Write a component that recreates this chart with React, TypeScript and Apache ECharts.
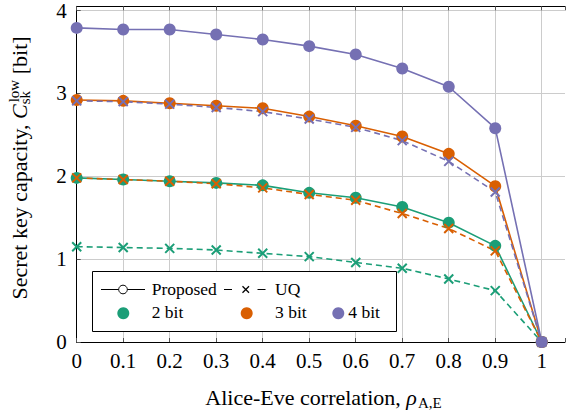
import React, { useEffect, useRef } from 'react';
import * as echarts from 'echarts';

// ---- data ----
const rho = [0, 0.1, 0.2, 0.3, 0.4, 0.5, 0.6, 0.7, 0.8, 0.9, 1.0];
const proposed2 = [1.98, 1.96, 1.94, 1.92, 1.89, 1.80, 1.74, 1.63, 1.44, 1.16, 0];
const proposed3 = [2.92, 2.91, 2.88, 2.85, 2.82, 2.72, 2.61, 2.48, 2.27, 1.88, 0];
const proposed4 = [3.79, 3.77, 3.77, 3.71, 3.65, 3.57, 3.47, 3.30, 3.08, 2.58, 0];
const uq2 = [1.15, 1.14, 1.13, 1.11, 1.07, 1.03, 0.96, 0.89, 0.76, 0.62, 0];
const uq3 = [1.98, 1.96, 1.94, 1.91, 1.86, 1.78, 1.71, 1.55, 1.37, 1.10, 0];
const uq4 = [2.91, 2.90, 2.87, 2.83, 2.78, 2.69, 2.59, 2.43, 2.18, 1.81, 0];

const bitLabels = ['2 bit', '3 bit', '4 bit'];
const methodLabels = ['Proposed', 'UQ'];
const colors = ['#1b9e77', '#d95f02', '#7570b3'];

const FONT = 'Liberation Serif';
const CROSS = 'path://M0,0L10,10M10,0L0,10';

function measure(text: string, size: number, style = 'normal') {
  const ctx = document.createElement('canvas').getContext('2d')!;
  ctx.font = `${style} ${size}px Liberation Serif`;
  return ctx.measureText(text).width;
}

function pairs(ys: number[]) {
  return rho.map((x, i) => [x, ys[i]]);
}

function lineSeries(name: string, ys: number[], color: string, dashed: boolean) {
  return {
    name,
    type: 'line',
    data: pairs(ys),
    symbol: dashed ? CROSS : 'circle',
    symbolSize: dashed ? 9 : 12,
    lineStyle: { color, width: 1.6, type: dashed ? [6, 4] : 'solid' },
    itemStyle: dashed
      ? { color, borderColor: color, borderWidth: 2 }
      : { color },
    emphasis: { disabled: true },
  };
}

function buildGraphic() {
  const g: any[] = [];
  const txt = (text: string, x: number, y: number, size: number, style = 'normal', z = 50) => ({
    type: 'text',
    x,
    y,
    z,
    style: {
      text,
      font: `${style} normal ${size}px ${FONT}`,
      fontSize: size,
      fontFamily: FONT,
      fontStyle: style,
      fill: '#000',
      align: 'left',
      verticalAlign: 'middle',
    },
  });
  // ---- y axis title (rotated) ----
  const big = 22;
  const small = 15;
  const yMain = 'Secret key capacity, ';
  const wMain = measure(yMain, big);
  const wC = measure('C', big, 'italic');
  const wSup = measure('low', small);
  const wSub = measure('sk', small);
  const wSp = measure(' ', big);
  const wUnit = measure('[bit]', big);
  const totalY = wMain + wC + 2 + Math.max(wSup, wSub) + wSp + wUnit;
  const yCenter = 168;
  g.push({
    type: 'group',
    x: 19.6,
    y: yCenter + totalY / 2,
    rotation: Math.PI / 2,
    children: [
      txt(yMain, 0, 0, big),
      txt('C', wMain, 0, big, 'italic'),
      txt('low', wMain + wC + 2, -5.2, small),
      txt('sk', wMain + wC, 5.4, small),
      txt('[bit]', wMain + wC + 2 + Math.max(wSup, wSub) + wSp, 0, big),
    ],
  });

  // ---- x axis title ----
  const xMain = 'Alice-Eve correlation, ';
  const w1 = measure(xMain, big);
  const w2 = measure('ρ', big, 'italic');
  const w3 = measure('A,E', small);
  const W = w1 + w2 + 1 + w3;
  const x0 = 323.5 - W / 2;
  g.push(txt(xMain, x0, 397.5, big));
  g.push(txt('ρ', x0 + w1, 397.5, big, 'italic'));
  g.push(txt('A,E', x0 + w1 + w2 + 1, 403, small));

  // ---- legend ----
  const lf = 17.5;
  const r1 = 289.5;
  const r2 = 313.3;
  g.push({
    type: 'rect',
    z: 100,
    shape: { x: 92.5, y: 271.5, width: 304, height: 60 },
    style: { fill: '#fff', stroke: '#000', lineWidth: 1 },
  });
  const ln = (x1: number, y1: number, x2: number, y2: number, w = 1) => ({
    type: 'line',
    z: 101,
    shape: { x1, y1, x2, y2 },
    style: { stroke: '#000', lineWidth: w },
  });
  g.push(ln(101, r1, 145, r1));
  g.push({
    type: 'circle',
    z: 102,
    shape: { cx: 123, cy: r1, r: 4.3 },
    style: { fill: '#fff', stroke: '#000', lineWidth: 1 },
  });
  g.push(txt(methodLabels[0], 151.7, r1 - 1, lf, 'normal', 101));
  g.push(ln(224, r1, 232, r1));
  g.push(ln(257.5, r1, 265.5, r1));
  g.push(ln(242.5, r1 - 3.2, 249, r1 + 3.2, 1.2));
  g.push(ln(242.5, r1 + 3.2, 249, r1 - 3.2, 1.2));
  g.push(txt(methodLabels[1], 275, r1 - 1, lf, 'normal', 101));
  const dotX = [123.3, 246.7, 338.3];
  const textX = [151.7, 275, 348.3];
  for (let i = 0; i < 3; i++) {
    g.push({
      type: 'circle',
      z: 102,
      shape: { cx: dotX[i], cy: r2, r: 6 },
      style: { fill: colors[i] },
    });
    g.push(txt(bitLabels[i], textX[i], r2 - 1, lf, 'normal', 101));
  }
  return g;
}

function buildOption() {
  const axisText = { fontFamily: FONT, fontSize: 21, color: '#000' };
  const grid = { left: 76.7, top: 5.85, width: 509.25, height: 336.15 };
  return {
    animation: false,
    grid,
    xAxis: [
      {
        type: 'value',
        min: 0,
        max: 1.05,
        interval: 0.1,
        axisLine: { show: true, onZero: false, lineStyle: { color: '#000', width: 1 } },
        axisTick: { show: true, inside: true, length: 4, lineStyle: { color: '#555' } },
        axisLabel: {
          ...axisText,
          margin: 8,
          showMaxLabel: true,
          formatter: (v: number) => (v > 1.0001 ? '' : String(Math.round(v * 10) / 10)),
        },
        splitLine: { show: true, showMinLine: false, showMaxLine: false, lineStyle: { color: '#cccccc', width: 1 } },
      },
      {
        type: 'value',
        position: 'top',
        min: 0,
        max: 1.05,
        interval: 0.1,
        z: 10,
        axisLine: { show: true, onZero: false, lineStyle: { color: '#000', width: 1 } },
        axisTick: { show: true, inside: true, length: 4, lineStyle: { color: '#555' } },
        axisLabel: { show: false },
        splitLine: { show: false },
      },
    ],
    yAxis: [
      {
        type: 'value',
        min: 0,
        max: 4.05,
        interval: 1,
        axisLine: { show: true, onZero: false, lineStyle: { color: '#000', width: 1 } },
        axisTick: { show: true, inside: true, length: 4, lineStyle: { color: '#555' } },
        axisLabel: {
          ...axisText,
          margin: 10,
          formatter: (v: number) => (v > 4.001 ? '' : String(v)),
        },
        splitLine: { show: true, showMinLine: false, showMaxLine: false, lineStyle: { color: '#cccccc', width: 1 } },
      },
    ],
    series: [
      lineSeries('Proposed 2 bit', proposed2, colors[0], false),
      lineSeries('UQ 2 bit', uq2, colors[0], true),
      lineSeries('Proposed 3 bit', proposed3, colors[1], false),
      lineSeries('UQ 3 bit', uq3, colors[1], true),
      lineSeries('Proposed 4 bit', proposed4, colors[2], false),
      lineSeries('UQ 4 bit', uq4, colors[2], true),
    ],
    graphic: buildGraphic(),
  };
}

export default function App() {
  const ref = useRef<HTMLDivElement>(null);
  useEffect(() => {
    document.body.style.margin = '0';
    const chart = echarts.init(ref.current!, null, { renderer: 'svg' });
    chart.setOption(buildOption() as any);
    return () => chart.dispose();
  }, []);
  return (
    <div
      ref={ref}
      style={{ position: 'absolute', left: 0, top: 0, width: 568, height: 411, overflow: 'hidden' }}
    />
  );
}
